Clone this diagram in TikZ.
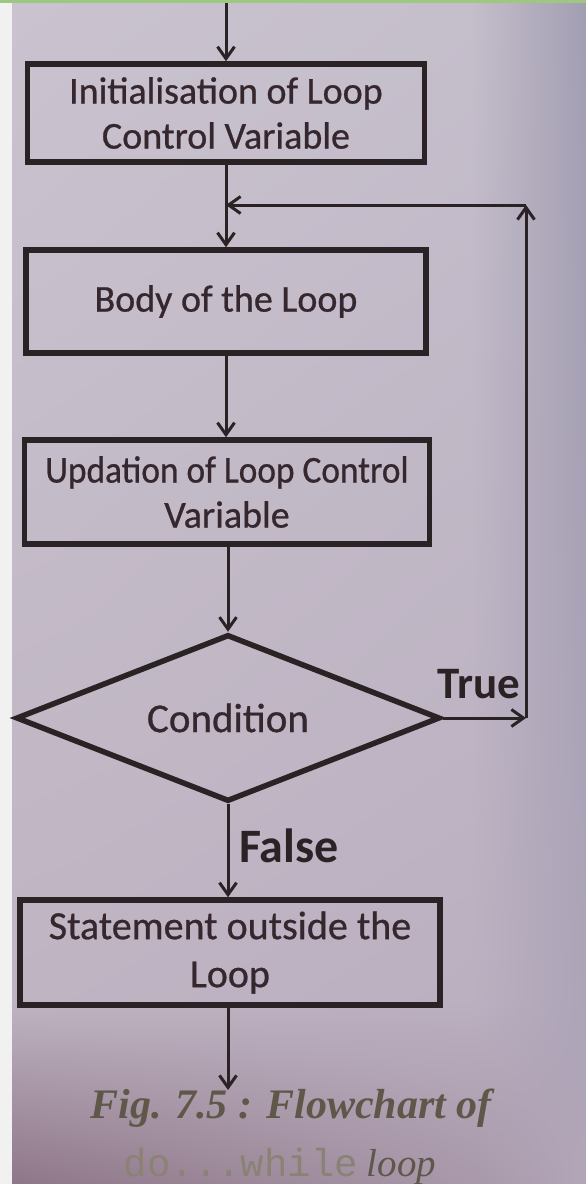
\documentclass[tikz,border=0pt]{standalone}
\usepackage{fontspec}
\setmainfont{Carlito}[UprightFeatures={FakeBold=0.7}]
\newfontfamily\capserif{Liberation Serif}
\newfontfamily\capmono{Liberation Mono}
\usetikzlibrary{arrows.meta,shapes.geometric,shadings}

% page and ink colours
\definecolor{margin}{HTML}{F1F1F2}
\definecolor{rule}{HTML}{9CC97F}
\definecolor{pgA}{HTML}{CAC3CF}
\definecolor{pgB}{HTML}{C5BECB}
\definecolor{pgC}{HTML}{A29EB2}
\definecolor{pgD}{HTML}{BFB4C2}
\definecolor{pgE}{HTML}{BBB0C0}
\definecolor{pgF}{HTML}{ADA4B8}
\definecolor{pgG}{HTML}{8E7688}
\definecolor{pgH}{HTML}{A898A9}
\definecolor{pgI}{HTML}{B2A6B8}
\definecolor{ink}{HTML}{2B2225}
\definecolor{txt}{HTML}{35272D}
\definecolor{capA}{HTML}{5F5749}
\definecolor{capB}{HTML}{8A8274}

\tikzset{
  box/.style={draw=ink, line width=5.5pt, rectangle, inner sep=0pt,
    align=center, text=txt, font=\fontsize{38}{45}\selectfont},
  decision/.style={draw=ink, line width=5.5pt, diamond, aspect=2.55,
    inner sep=0pt, text=txt, font=\fontsize{41}{45}\selectfont},
  conn/.style={draw=ink, line width=3pt,
    -{Straight Barb[length=12pt,width=17pt,line width=3pt]}},
  branch/.style={text=ink, font=\bfseries\fontsize{45}{48}\selectfont, inner sep=0pt}
}

\begin{document}
\begin{tikzpicture}[x=1pt,y=-1pt]
  % page background
  \fill[margin] (0,0) rectangle (586,1184);
  \shade[upper left=pgA, upper right=pgB, lower left=pgD, lower right=pgE]
    (12,3) rectangle (470,1000);
  \shade[upper left=pgB, upper right=pgC, lower left=pgE, lower right=pgF]
    (470,3) rectangle (586,1000);
  \shade[upper left=pgD, upper right=pgE, lower left=pgG, lower right=pgH]
    (12,1000) rectangle (470,1184);
  \shade[upper left=pgE, upper right=pgF, lower left=pgH, lower right=pgI]
    (470,1000) rectangle (586,1184);
  \fill[rule] (0,0) rectangle (586,3);
  \useasboundingbox (0,0) rectangle (586,1184);

  % flowchart nodes
  \node[box, minimum width=397pt, minimum height=98pt] (init) at (226,113)
    {Initialisation of Loop\\Control Variable};
  \node[box, minimum width=400pt, minimum height=103pt] (body) at (226,301.5)
    {Body of the Loop};
  \node[box, minimum width=405pt, minimum height=104pt] (upd) at (227,492)
    {\scalebox{0.93}[1]{Updation of Loop Control}\\Variable};
  \node[decision, minimum width=424pt, minimum height=167pt] (cond) at (228,718)
    {Condition};
  \node[box, minimum width=420pt, minimum height=105pt,
        font=\fontsize{40}{48}\selectfont] (stmt) at (230,952.5)
    {Statement outside the\\Loop};

  % helper points
  \coordinate (topedge) at (0,3);
  \coordinate (start) at (init.north |- topedge);
  \coordinate (loopTop) at (526,205);
  \coordinate (loopBot) at (loopTop |- cond.east);
  \coordinate (merge) at (init.south |- loopTop);
  \coordinate (exit) at (228,1090);

  % connectors
  \draw[conn] (start) -- (init.north);
  \draw[conn] (init.south) -- (init.south |- body.north);
  \draw[conn] (body.south) -- (body.south |- upd.north);
  \draw[conn] (upd.south -| cond.north) -- (cond.north);
  \draw[conn] (cond.south) -- (cond.south |- stmt.north);
  \draw[conn] (stmt.south -| exit) -- (exit);
  \draw[conn] (cond.east) -- (loopBot);
  \draw[conn] (loopBot) -- (loopTop);
  \draw[conn] (loopTop) -- (merge);

  % branch labels
  \node[branch, anchor=base] (tlabel) at (479,698) {True};
  \node[branch, anchor=base west, font=\bfseries\fontsize{48}{50}\selectfont]
    (flabel) at (239,862) {False};

  % caption
  \node[anchor=base, text=capA, inner sep=0pt] (cap1) at (291,1118)
    {\capserif\bfseries\itshape\fontsize{42}{46}\selectfont Fig. 7.5 : Flowchart of};
  \node[anchor=base, inner sep=0pt] (cap2) at (280,1176)
    {\fontsize{39}{46}\selectfont\textcolor{capB}{\capmono do...while}
     \textcolor{capA}{\capserif\itshape loop}};
\end{tikzpicture}
\end{document}
